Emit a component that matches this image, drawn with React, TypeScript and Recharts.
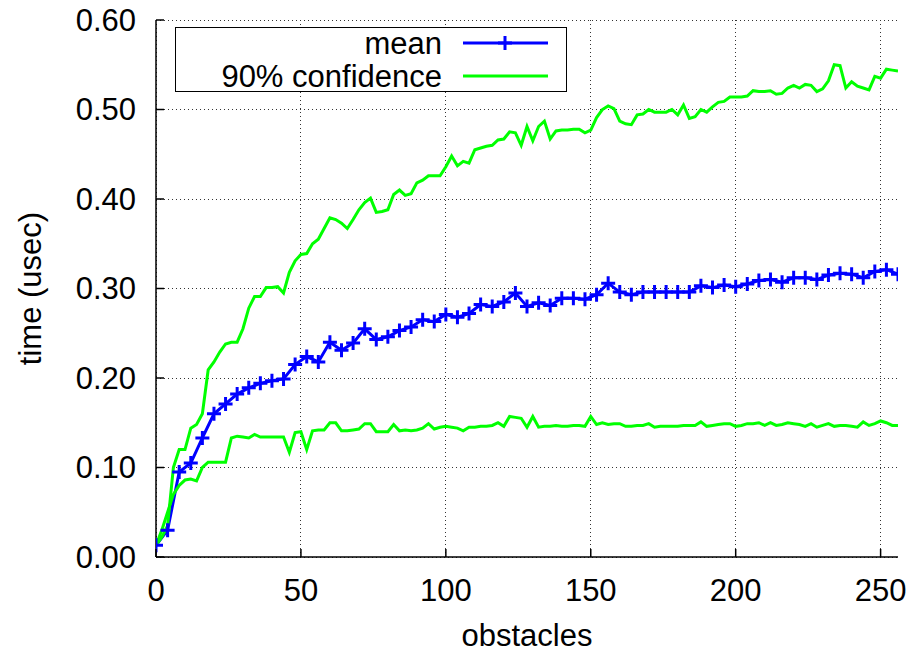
import React from 'react';
import { LineChart, Line, XAxis, YAxis, CartesianGrid, Legend } from 'recharts';

// ---- data ----
const xTicks = [0, 50, 100, 150, 200, 250];
const yTicks = [0, 0.1, 0.2, 0.3, 0.4, 0.5, 0.6];
const xLabel = 'obstacles';
const yLabel = 'time (usec)';
const meanName = 'mean';
const confName = '90% confidence';

const meanStep = 4; // mean sampled every 4 obstacles
const confStep = 2; // confidence bounds sampled every 2 obstacles

const meanValues = [
  0.013, 0.030, 0.095, 0.105, 0.133, 0.160, 0.171, 0.182, 0.189, 0.194,
  0.197, 0.199, 0.215, 0.224, 0.218, 0.240, 0.231, 0.239, 0.255, 0.243,
  0.246, 0.253, 0.257, 0.265, 0.263, 0.271, 0.268, 0.272, 0.282, 0.280,
  0.285, 0.295, 0.280, 0.284, 0.281, 0.289, 0.289, 0.288, 0.293, 0.306,
  0.296, 0.293, 0.296, 0.296, 0.296, 0.296, 0.296, 0.303, 0.301, 0.304,
  0.302, 0.305, 0.309, 0.310, 0.307, 0.312, 0.312, 0.310, 0.315, 0.317,
  0.316, 0.312, 0.319, 0.321, 0.316,
];

const upperValues = [
  0.013, 0.022, 0.035, 0.100, 0.120, 0.120, 0.144, 0.148, 0.160, 0.209,
  0.218, 0.229, 0.238, 0.240, 0.240, 0.255, 0.278, 0.291, 0.291, 0.301,
  0.301, 0.302, 0.295, 0.318, 0.331, 0.338, 0.339, 0.350, 0.355, 0.367,
  0.379, 0.377, 0.373, 0.367, 0.377, 0.388, 0.396, 0.401, 0.385, 0.386,
  0.388, 0.405, 0.410, 0.404, 0.406, 0.418, 0.421, 0.426, 0.426, 0.426,
  0.436, 0.448, 0.437, 0.442, 0.440, 0.455, 0.457, 0.459, 0.460, 0.466,
  0.467, 0.475, 0.474, 0.460, 0.481, 0.465, 0.481, 0.487, 0.467, 0.476,
  0.477, 0.477, 0.478, 0.478, 0.474, 0.477, 0.491, 0.500, 0.504, 0.501,
  0.487, 0.484, 0.483, 0.494, 0.495, 0.500, 0.497, 0.497, 0.497, 0.500,
  0.494, 0.505, 0.490, 0.492, 0.500, 0.497, 0.503, 0.508, 0.509, 0.514,
  0.514, 0.514, 0.515, 0.521, 0.520, 0.520, 0.521, 0.517, 0.518, 0.524,
  0.527, 0.524, 0.528, 0.527, 0.520, 0.523, 0.532, 0.550, 0.549, 0.524,
  0.531, 0.526, 0.524, 0.522, 0.537, 0.535, 0.545, 0.544, 0.543,
];

const lowerValues = [
  0.013, 0.030, 0.050, 0.070, 0.080, 0.086, 0.087, 0.085, 0.100, 0.106,
  0.106, 0.106, 0.106, 0.133, 0.135, 0.134, 0.133, 0.137, 0.134, 0.134,
  0.134, 0.134, 0.134, 0.117, 0.139, 0.140, 0.120, 0.141, 0.142, 0.142,
  0.150, 0.150, 0.141, 0.141, 0.142, 0.143, 0.149, 0.149, 0.140, 0.140,
  0.140, 0.148, 0.141, 0.142, 0.141, 0.142, 0.144, 0.149, 0.143, 0.145,
  0.146, 0.145, 0.144, 0.141, 0.145, 0.145, 0.146, 0.146, 0.147, 0.150,
  0.146, 0.157, 0.156, 0.155, 0.145, 0.157, 0.145, 0.146, 0.146, 0.147,
  0.146, 0.146, 0.147, 0.147, 0.146, 0.157, 0.148, 0.150, 0.148, 0.149,
  0.149, 0.146, 0.146, 0.147, 0.147, 0.149, 0.145, 0.146, 0.146, 0.146,
  0.146, 0.147, 0.147, 0.147, 0.151, 0.146, 0.147, 0.148, 0.149, 0.149,
  0.146, 0.147, 0.149, 0.149, 0.150, 0.147, 0.150, 0.147, 0.148, 0.150,
  0.149, 0.148, 0.146, 0.149, 0.145, 0.147, 0.149, 0.146, 0.147, 0.147,
  0.146, 0.145, 0.151, 0.147, 0.149, 0.152, 0.150, 0.147, 0.147,
];

const rows = upperValues.map((hi, i) => {
  const x = i * confStep;
  return {
    x,
    hi,
    lo: lowerValues[i],
    mean: x % meanStep === 0 ? meanValues[x / meanStep] : null,
  };
});

// ---- styles ----
const FONT = '"Liberation Sans", Arial, Helvetica, sans-serif';
const FS = 31;
const BLUE = '#0000ff';
const GREEN = '#00ff00';
const TICK = 8;
const W = 912;
const H = 658;

const BottomTick = (p: any) => (
  <g>
    <line x1={p.x} x2={p.x} y1={p.y} y2={p.y - TICK} stroke="#000" strokeWidth={1.5} />
    <text x={p.x} y={p.y + 33} dy="0.35em" textAnchor="middle" fontSize={FS} fontFamily={FONT} fill="#000">
      {p.payload.value}
    </text>
  </g>
);
const LeftTick = (p: any) => (
  <g>
    <line x1={p.x} x2={p.x + TICK} y1={p.y} y2={p.y} stroke="#000" strokeWidth={1.5} />
    <text x={p.x - 20} y={p.y} dy="0.35em" textAnchor="end" fontSize={FS} fontFamily={FONT} fill="#000">
      {Number(p.payload.value).toFixed(2)}
    </text>
  </g>
);
const TopTick = (p: any) => (
  <line x1={p.x} x2={p.x} y1={p.y} y2={p.y + TICK} stroke="#000" strokeWidth={1.5} />
);
const RightTick = (p: any) => (
  <line x1={p.x} x2={p.x - TICK} y1={p.y} y2={p.y} stroke="#000" strokeWidth={1.5} />
);

const PlusDot = (p: any) => {
  const k = `pd-${p.index}`;
  if (p.cx == null || p.cy == null || !Number.isFinite(p.cx) || !Number.isFinite(p.cy) || p.value == null) {
    return <g key={k} />;
  }
  const s = 7;
  return (
    <path
      key={k}
      d={`M${p.cx - s},${p.cy}H${p.cx + s}M${p.cx},${p.cy - s}V${p.cy + s}`}
      stroke={BLUE}
      strokeWidth={3}
      fill="none"
    />
  );
};

const LegendBox = () => (
  <div
    style={{
      width: 392,
      height: 65,
      boxSizing: 'border-box',
      border: '1.5px solid #000',
      background: '#fff',
      position: 'relative',
      overflow: 'visible',
    }}
  >
    <svg
      width={392}
      height={80}
      overflow="visible"
      style={{ position: 'absolute', left: -1.5, top: -1.5, overflow: 'visible' }}
    >
      <text x={267} y={16} dy="0.35em" textAnchor="end" fontSize={FS} fontFamily={FONT} fill="#000">
        {meanName}
      </text>
      <line x1={288} x2={373} y1={16} y2={16} stroke={BLUE} strokeWidth={3} />
      <path d="M323,16H337M330,9V23" stroke={BLUE} strokeWidth={3} />
      <text x={267} y={49} dy="0.35em" textAnchor="end" fontSize={FS} fontFamily={FONT} fill="#000">
        {confName}
      </text>
      <line x1={288} x2={373} y1={49} y2={49} stroke={GREEN} strokeWidth={3} />
    </svg>
  </div>
);

export default function App() {
  return (
    <div style={{ position: 'absolute', left: 0, top: 0, width: W, height: H, background: '#fff', fontFamily: FONT }}>
      <LineChart width={W} height={H} data={rows} margin={{ top: 20, right: 14, bottom: 41, left: 0 }}>
        <CartesianGrid
          stroke="#333"
          strokeDasharray="1 3"
          strokeWidth={1}
          shapeRendering="crispEdges"
          horizontalValues={yTicks}
          verticalValues={xTicks}
        />
        <XAxis
          dataKey="x"
          type="number"
          domain={[0, 256]}
          ticks={xTicks}
          allowDataOverflow
          height={60}
          tickSize={0}
          tickMargin={0}
          tick={<BottomTick />}
          axisLine={{ stroke: '#000', strokeWidth: 1.5 }}
          tickLine={false}
          interval={0}
          label={{
            content: (lp: any) => {
              const vb = lp.viewBox || {};
              return (
                <text
                  x={vb.x + vb.width / 2}
                  y={vb.y + 78}
                  dy="0.35em"
                  textAnchor="middle"
                  fontSize={FS}
                  fontFamily={FONT}
                  fill="#000"
                >
                  {xLabel}
                </text>
              );
            },
          }}
        />
        <XAxis
          xAxisId="top"
          orientation="top"
          dataKey="x"
          type="number"
          domain={[0, 256]}
          ticks={xTicks}
          allowDataOverflow
          height={0}
          tickSize={0}
          tickMargin={0}
          tick={<TopTick />}
          axisLine={{ stroke: '#000', strokeWidth: 1.5 }}
          tickLine={false}
          interval={0}
        />
        <YAxis
          type="number"
          domain={[0, 0.6]}
          ticks={yTicks}
          allowDataOverflow
          width={156}
          tickSize={0}
          tickMargin={0}
          tick={<LeftTick />}
          axisLine={{ stroke: '#000', strokeWidth: 1.5 }}
          tickLine={false}
          interval={0}
          label={{
            content: (lp: any) => {
              const vb = lp.viewBox || {};
              const cx = vb.x + 30;
              const cy = vb.y + vb.height / 2;
              return (
                <text
                  x={cx}
                  y={cy}
                  dy="0.35em"
                  textAnchor="middle"
                  fontSize={FS}
                  fontFamily={FONT}
                  fill="#000"
                  transform={`rotate(-90 ${cx} ${cy})`}
                >
                  {yLabel}
                </text>
              );
            },
          }}
        />
        <YAxis
          yAxisId="right"
          orientation="right"
          type="number"
          domain={[0, 0.6]}
          ticks={yTicks}
          allowDataOverflow
          width={0}
          tickSize={0}
          tickMargin={0}
          tick={<RightTick />}
          axisLine={{ stroke: '#000', strokeWidth: 1.5 }}
          tickLine={false}
          interval={0}
        />
        <Legend
          layout="horizontal"
          verticalAlign="middle"
          align="center"
          wrapperStyle={{ left: 175, top: 27, width: 392, height: 65 }}
          content={() => <LegendBox />}
        />
        <Line
          dataKey="mean"
          name={meanName}
          stroke={BLUE}
          strokeWidth={3}
          connectNulls
          dot={PlusDot}
          activeDot={false}
          isAnimationActive={false}
          legendType="plainline"
        />
        <Line
          dataKey="hi"
          name={confName}
          stroke={GREEN}
          strokeWidth={3}
          dot={false}
          activeDot={false}
          isAnimationActive={false}
          legendType="plainline"
        />
        <Line
          dataKey="lo"
          name={confName}
          stroke={GREEN}
          strokeWidth={3}
          dot={false}
          activeDot={false}
          isAnimationActive={false}
          legendType="none"
        />
      </LineChart>
    </div>
  );
}
